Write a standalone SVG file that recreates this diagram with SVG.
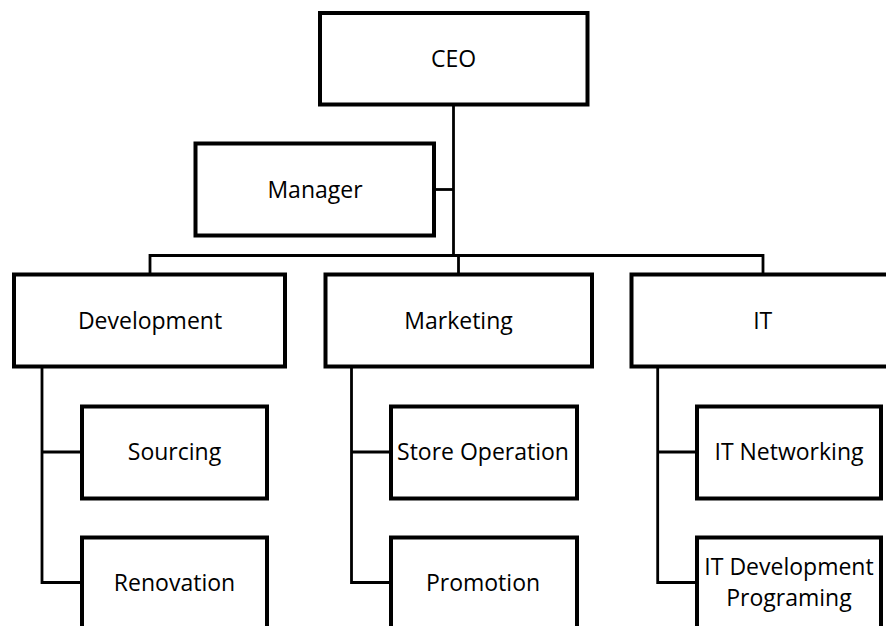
<svg xmlns="http://www.w3.org/2000/svg" width="886" height="626" viewBox="0 0 886 626">
  <style>
    .box { fill: #ffffff; stroke: #000000; stroke-width: 4; }
    .conn { fill: none; stroke: #000000; stroke-width: 2.8; }
    .lbl { font-family: "Open Sans", "Liberation Sans", sans-serif; font-size: 23px; fill: #000000; text-anchor: middle; }
  </style>
  <rect width="886" height="626" fill="#ffffff"/>
  <g id="connectors">
    <path class="conn" d="M453.5,104.5 V255.5"/>
    <path class="conn" d="M434,189.5 H453.5"/>
    <path class="conn" d="M150,274.5 V255.5 H763 V274.5"/>
    <path class="conn" d="M458.5,255.5 V274.5"/>
    <path class="conn" d="M42,366.5 V582.5 H82"/>
    <path class="conn" d="M42,452 H82"/>
    <path class="conn" d="M351.5,366.5 V582.5 H391"/>
    <path class="conn" d="M351.5,452 H391"/>
    <path class="conn" d="M657.7,366.5 V582.5 H697"/>
    <path class="conn" d="M657.7,452 H697"/>
  </g>
  <g id="ceo">
    <rect class="box" x="320" y="13" width="267.5" height="91.5"/>
    <text class="lbl" x="453.5" y="66.5">CEO</text>
  </g>
  <g id="manager">
    <rect class="box" x="195.5" y="143.5" width="238.5" height="92"/>
    <text class="lbl" x="315" y="198">Manager</text>
  </g>
  <g id="development">
    <rect class="box" x="14" y="274.5" width="271" height="92"/>
    <text class="lbl" x="150" y="329">Development</text>
  </g>
  <g id="marketing">
    <rect class="box" x="325.5" y="274.5" width="266.5" height="92"/>
    <text class="lbl" x="458.5" y="329">Marketing</text>
  </g>
  <g id="it">
    <rect class="box" x="631.5" y="274.5" width="262.5" height="92"/>
    <text class="lbl" x="762.7" y="329">IT</text>
  </g>
  <g id="sourcing">
    <rect class="box" x="82" y="406.5" width="185" height="92"/>
    <text class="lbl" x="174.5" y="459.5">Sourcing</text>
  </g>
  <g id="renovation">
    <rect class="box" x="82" y="537.5" width="185" height="92"/>
    <text class="lbl" x="174.5" y="591">Renovation</text>
  </g>
  <g id="store-operation">
    <rect class="box" x="391" y="406.5" width="186" height="92"/>
    <text class="lbl" x="483" y="459.5">Store Operation</text>
  </g>
  <g id="promotion">
    <rect class="box" x="391" y="537.5" width="186" height="92"/>
    <text class="lbl" x="483" y="591">Promotion</text>
  </g>
  <g id="it-networking">
    <rect class="box" x="697" y="406.5" width="184" height="92"/>
    <text class="lbl" x="789" y="459.5">IT Networking</text>
  </g>
  <g id="it-development">
    <rect class="box" x="697" y="537.5" width="184" height="92"/>
    <text class="lbl" x="789" y="574.5">IT Development</text>
    <text class="lbl" x="789" y="605.5">Programing</text>
  </g>
</svg>
